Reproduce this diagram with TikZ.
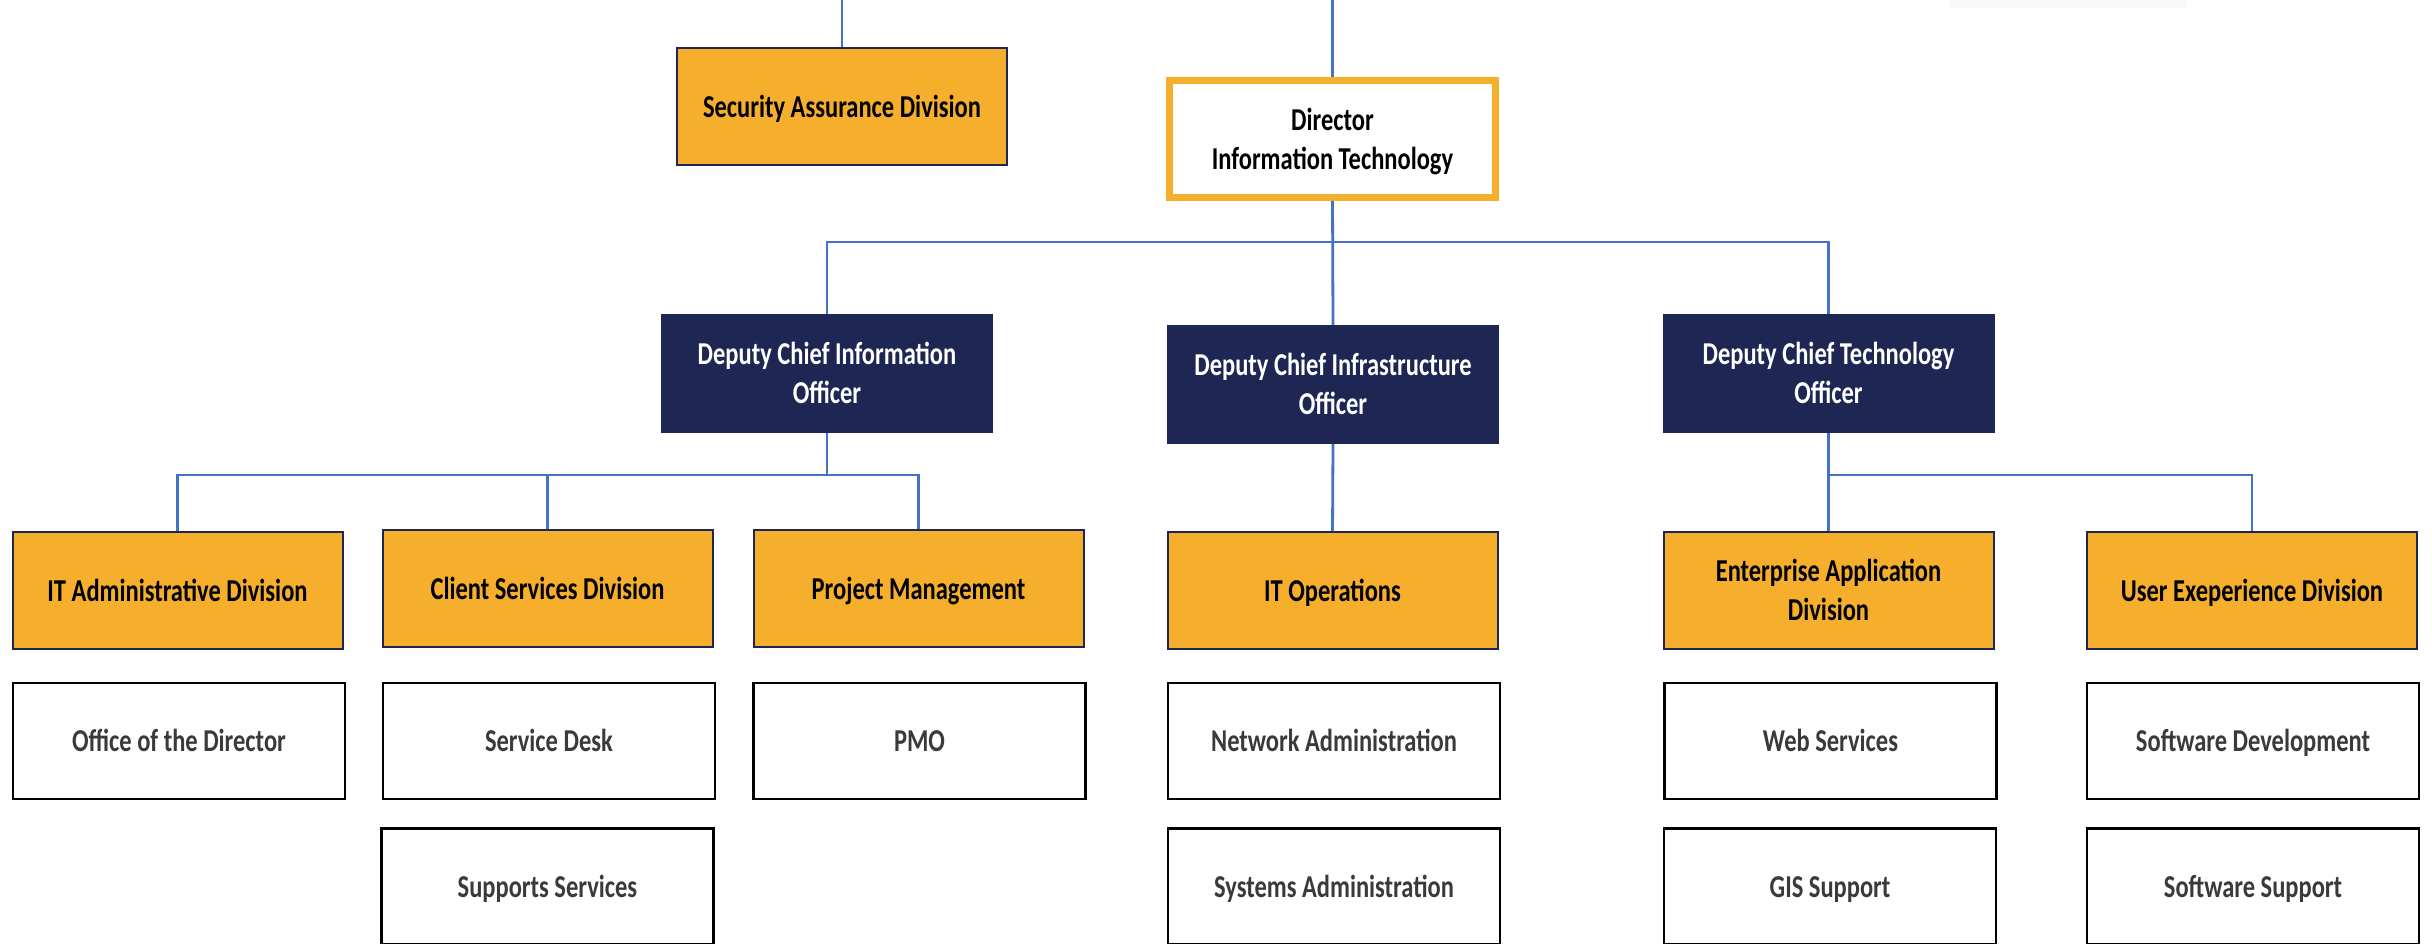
\documentclass[tikz,border=0pt]{standalone}
\usepackage{fontspec}
\setmainfont{Carlito}
\definecolor{orgc}{HTML}{F6AE2D}
\definecolor{navyc}{HTML}{1E2653}
\definecolor{linec}{HTML}{4472C4}
\definecolor{txtgray}{HTML}{3A3A3A}
\newcommand\boxtext[1]{\raisebox{-3pt}[\height][\depth]{\scalebox{1}[1.3]{\begin{tabular}{@{}c@{}}#1\end{tabular}}}}
\tikzset{
  basebox/.style={rectangle, inner sep=0pt, align=center,
    font=\fontsize{24.5}{30}\selectfont\bfseries},
  orangebox/.style={basebox, fill=orgc, draw=navyc, line width=2pt,
    minimum width=330pt, minimum height=117pt, text=black},
  navybox/.style={basebox, fill=navyc, draw=navyc, line width=2pt,
    minimum width=330pt, minimum height=117pt, text=white},
  whitebox/.style={basebox, fill=white, draw=black, line width=2.5pt,
    minimum width=332pt, minimum height=116pt, text=txtgray},
  dirbox/.style={basebox, fill=white, draw=orgc, line width=7pt,
    minimum width=326pt, minimum height=117pt, text=black},
  conn/.style={draw=linec, line width=2.8pt},
}
\begin{document}
\begin{tikzpicture}[x=1pt,y=-1pt]
\useasboundingbox (0,0) rectangle (2432,944);
\fill[white] (0,0) rectangle (2432,944);
\fill[gray!5] (1950,0) rectangle (2187,8);

% top level
\node[orangebox] (sec) at (842,107) {\boxtext{Security Assurance Division}};
\node[dirbox] (dir) at (1332.5,139) {\boxtext{Director\\Information Technology}};

% deputies
\node[navybox] (dcio) at (827,373.5) {\boxtext{Deputy Chief Information\\Officer}};
\node[navybox] (dcinf) at (1333,384.5) {\boxtext{Deputy Chief Infrastructure\\Officer}};
\node[navybox] (dcto) at (1828.5,373.5) {\boxtext{Deputy Chief Technology\\Officer}};

% divisions
\node[orangebox] (itadm) at (177.5,590.5) {\boxtext{IT Administrative Division}};
\node[orangebox] (client) at (547.5,588.5) {\boxtext{Client Services Division}};
\node[orangebox] (pm) at (918.5,588.5) {\boxtext{Project Management}};
\node[orangebox] (itops) at (1332.5,590.5) {\boxtext{IT Operations}};
\node[orangebox] (ea) at (1828.5,590.5) {\boxtext{Enterprise Application\\Division}};
\node[orangebox] (ux) at (2252,590.5) {\boxtext{User Exeperience Division}};

% units row 1
\node[whitebox] (office) at (179,741) {\boxtext{Office of the Director}};
\node[whitebox] (sdesk) at (549,741) {\boxtext{Service Desk}};
\node[whitebox] (pmo) at (919.5,741) {\boxtext{PMO}};
\node[whitebox] (net) at (1334,741) {\boxtext{Network Administration}};
\node[whitebox] (web) at (1830.5,741) {\boxtext{Web Services}};
\node[whitebox] (swdev) at (2253,741) {\boxtext{Software Development}};

% units row 2
\node[whitebox] (supp) at (547.5,886.5) {\boxtext{Supports Services}};
\node[whitebox] (sys) at (1334,886.5) {\boxtext{Systems Administration}};
\node[whitebox] (gis) at (1830,886.5) {\boxtext{GIS Support}};
\node[whitebox] (swsup) at (2253,886.5) {\boxtext{Software Support}};

% connectors
\coordinate (topsec) at (842,0);
\coordinate (topdir) at (1332.5,0);
\coordinate (bus1) at (1332.5,242);
\coordinate (bus2) at (827,475);
\coordinate (bus3) at (1828.5,475);

\draw[conn] (topsec) -- (sec.north);
\draw[conn] (topdir) -- (dir.north);
\draw[conn] (dir.south) -- (dcinf.north);
\draw[conn] (dcio.north) -- (dcio.north |- bus1) -- (dcto.north |- bus1) -- (dcto.north);

\draw[conn] (dcio.south) -- (bus2);
\draw[conn] (itadm.north) -- (itadm.north |- bus2) -- (pm.north |- bus2) -- (pm.north);
\draw[conn] (client.north) -- (client.north |- bus2);

\draw[conn] (dcinf.south) -- (itops.north);

\draw[conn] (dcto.south) -- (bus3);
\draw[conn] (ea.north) -- (ea.north |- bus3) -- (ux.north |- bus3) -- (ux.north);
\end{tikzpicture}
\end{document}
